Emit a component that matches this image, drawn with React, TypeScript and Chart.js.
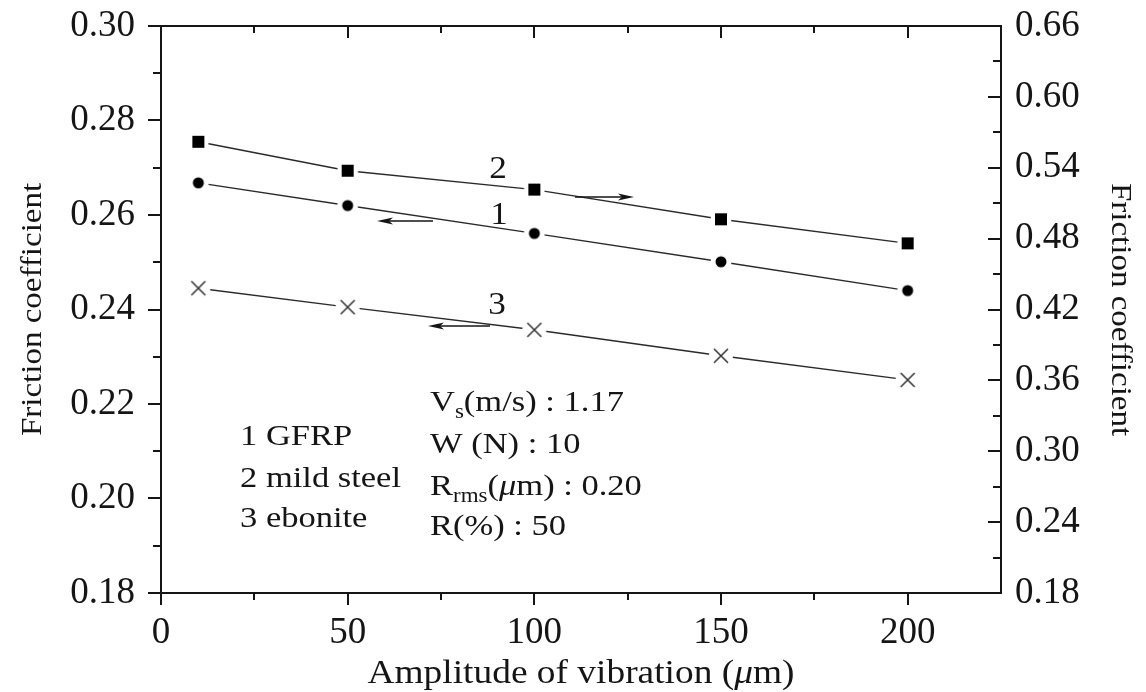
import React, { useEffect, useRef } from 'react';
import { Chart, registerables } from 'chart.js';

Chart.register(...registerables);

// ---- data ----
const amplitude = [10, 50, 100, 150, 200];
const gfrp = [0.2668, 0.262, 0.2561, 0.2501, 0.244];
const mildSteel = [0.562, 0.5375, 0.5215, 0.4964, 0.476];
const ebonite = [0.2445, 0.2405, 0.2357, 0.2302, 0.2251];

const xTicks = [0, 50, 100, 150, 200];
const xMinorTicks = [25, 75, 125, 175];
const leftTicks = [0.18, 0.2, 0.22, 0.24, 0.26, 0.28, 0.3];
const leftMinorTicks = [0.19, 0.21, 0.23, 0.25, 0.27, 0.29];
const rightTicks = [0.18, 0.24, 0.3, 0.36, 0.42, 0.48, 0.54, 0.6, 0.66];
const rightMinorTicks = [0.21, 0.27, 0.33, 0.39, 0.45, 0.51, 0.57, 0.63];

const FONT = '"Liberation Serif", "Times New Roman", serif';
const INK = '#151515';

type Part = { t: string; size?: number; italic?: boolean; dy?: number };

function richWidth(ctx: CanvasRenderingContext2D, parts: Part[], base: number) {
  let w = 0;
  for (const p of parts) {
    ctx.font = `${p.italic ? 'italic ' : ''}${p.size ?? base}px ${FONT}`;
    w += ctx.measureText(p.t).width;
  }
  return w;
}

function drawRich(
  ctx: CanvasRenderingContext2D,
  x: number,
  y: number,
  parts: Part[],
  base: number,
  stretch: number,
  align: 'left' | 'center' = 'left',
  rotate = 0
) {
  ctx.save();
  ctx.translate(x, y);
  if (rotate) ctx.rotate(rotate);
  ctx.scale(stretch, 1);
  ctx.fillStyle = INK;
  ctx.textBaseline = 'alphabetic';
  ctx.textAlign = 'left';
  let cx = align === 'center' ? -richWidth(ctx, parts, base) / 2 : 0;
  for (const p of parts) {
    ctx.font = `${p.italic ? 'italic ' : ''}${p.size ?? base}px ${FONT}`;
    ctx.fillText(p.t, cx, p.dy ?? 0);
    cx += ctx.measureText(p.t).width;
  }
  ctx.restore();
}

function arrow(ctx: CanvasRenderingContext2D, x1: number, x2: number, y: number) {
  const dir = x2 > x1 ? 1 : -1;
  ctx.save();
  ctx.strokeStyle = INK;
  ctx.fillStyle = INK;
  ctx.lineWidth = 1.6;
  ctx.beginPath();
  ctx.moveTo(x1, y);
  ctx.lineTo(x2 - dir * 10, y);
  ctx.stroke();
  ctx.beginPath();
  ctx.moveTo(x2, y);
  ctx.lineTo(x2 - dir * 16, y - 3.5);
  ctx.lineTo(x2 - dir * 12, y);
  ctx.lineTo(x2 - dir * 16, y + 3.5);
  ctx.closePath();
  ctx.fill();
  ctx.restore();
}

function makeMarker(kind: 'square' | 'circle' | 'cross') {
  const c = document.createElement('canvas');
  c.width = 26;
  c.height = 26;
  const g = c.getContext('2d')!;
  g.fillStyle = '#fff';
  g.beginPath();
  g.arc(13, 13, kind === 'cross' ? 12 : 10.5, 0, Math.PI * 2);
  g.fill();
  g.fillStyle = '#000';
  g.strokeStyle = '#333';
  if (kind === 'square') {
    g.fillRect(7, 7, 12, 12);
  } else if (kind === 'circle') {
    g.beginPath();
    g.arc(13, 13, 5.5, 0, Math.PI * 2);
    g.fill();
  } else {
    g.lineWidth = 1.5;
    g.beginPath();
    g.moveTo(6, 6);
    g.lineTo(20, 20);
    g.moveTo(20, 6);
    g.lineTo(6, 20);
    g.stroke();
  }
  return c;
}

const decorPlugin = {
  id: 'decor',
  afterDraw(chart: any) {
    const ctx: CanvasRenderingContext2D = chart.ctx;
    const { left, right, top, bottom } = chart.chartArea;
    const sx = chart.scales.x;
    const sy = chart.scales.y;
    const sy2 = chart.scales.y2;

    ctx.save();
    ctx.strokeStyle = INK;
    ctx.lineWidth = 2;
    ctx.beginPath();
    ctx.rect(left, top, right - left, bottom - top);
    ctx.stroke();

    ctx.beginPath();
    for (const v of xTicks) {
      const px = Math.round(sx.getPixelForValue(v));
      ctx.moveTo(px, bottom);
      ctx.lineTo(px, bottom + 12);
      ctx.moveTo(px, top);
      ctx.lineTo(px, top + 12);
    }
    for (const v of xMinorTicks) {
      const px = Math.round(sx.getPixelForValue(v));
      ctx.moveTo(px, bottom);
      ctx.lineTo(px, bottom + 7);
      ctx.moveTo(px, top);
      ctx.lineTo(px, top + 7);
    }
    for (const v of leftTicks) {
      const py = Math.round(sy.getPixelForValue(v));
      ctx.moveTo(left, py);
      ctx.lineTo(left - 13, py);
    }
    for (const v of leftMinorTicks) {
      const py = Math.round(sy.getPixelForValue(v));
      ctx.moveTo(left, py);
      ctx.lineTo(left - 8, py);
    }
    for (const v of rightTicks) {
      const py = Math.round(sy2.getPixelForValue(v));
      ctx.moveTo(right, py);
      ctx.lineTo(right - 13, py);
    }
    for (const v of rightMinorTicks) {
      const py = Math.round(sy2.getPixelForValue(v));
      ctx.moveTo(right, py);
      ctx.lineTo(right - 8, py);
    }
    ctx.stroke();
    ctx.restore();

    drawRich(
      ctx,
      (left + right) / 2,
      683,
      [{ t: 'Amplitude of vibration (' }, { t: 'μ', italic: true }, { t: 'm)' }],
      34,
      1.1,
      'center'
    );
    drawRich(ctx, 41, (top + bottom) / 2, [{ t: 'Friction coefficient' }], 30, 1.1, 'center', -Math.PI / 2);
    drawRich(ctx, 1112, (top + bottom) / 2, [{ t: 'Friction coefficient' }], 30, 1.1, 'center', Math.PI / 2);

    drawRich(ctx, 498, 178, [{ t: '2' }], 32, 1.1, 'center');
    drawRich(ctx, 499, 224, [{ t: '1' }], 32, 1.1, 'center');
    drawRich(ctx, 497, 314, [{ t: '3' }], 32, 1.1, 'center');

    arrow(ctx, 433, 377, 221);
    arrow(ctx, 575, 634, 197);
    arrow(ctx, 490, 428, 326);

    drawRich(ctx, 240, 445, [{ t: '1 GFRP' }], 30, 1.15);
    drawRich(ctx, 240, 487, [{ t: '2 mild steel' }], 30, 1.15);
    drawRich(ctx, 240, 527, [{ t: '3 ebonite' }], 30, 1.15);

    drawRich(ctx, 430, 411, [{ t: 'V' }, { t: 's', size: 20, dy: 7 }, { t: '(m/s) : 1.17' }], 30, 1.15);
    drawRich(ctx, 430, 453, [{ t: 'W (N) : 10' }], 30, 1.15);
    drawRich(
      ctx,
      430,
      495,
      [{ t: 'R' }, { t: 'rms', size: 20, dy: 7 }, { t: '(' }, { t: 'μ', italic: true }, { t: 'm) : 0.20' }],
      30,
      1.15
    );
    drawRich(ctx, 430, 535, [{ t: 'R(%) : 50' }], 30, 1.15);
  },
};

function zeroPad(s: any) {
  s.paddingTop = 0;
  s.paddingBottom = 0;
  s.paddingLeft = 0;
  s.paddingRight = 0;
}

export default function App() {
  const ref = useRef<HTMLCanvasElement | null>(null);

  useEffect(() => {
    if (!ref.current) return;
    let chart: Chart | null = null;
    let cancelled = false;

    const build = () => {
      if (cancelled || !ref.current) return;
      const sq = makeMarker('square');
      const ci = makeMarker('circle');
      const cr = makeMarker('cross');
      const tickFont = { family: FONT, size: 37 };
      const lineStyle = { borderColor: '#2a2a2a', borderWidth: 1.4, showLine: true, fill: false, tension: 0 };

      chart = new Chart(ref.current, {
        type: 'scatter',
        data: {
          datasets: [
            {
              label: '1 GFRP',
              data: amplitude.map((x, i) => ({ x, y: gfrp[i] })),
              yAxisID: 'y',
              pointStyle: ci as any,
              ...lineStyle,
            },
            {
              label: '2 mild steel',
              data: amplitude.map((x, i) => ({ x, y: mildSteel[i] })),
              yAxisID: 'y2',
              pointStyle: sq as any,
              ...lineStyle,
            },
            {
              label: '3 ebonite',
              data: amplitude.map((x, i) => ({ x, y: ebonite[i] })),
              yAxisID: 'y',
              pointStyle: cr as any,
              ...lineStyle,
            },
          ],
        },
        options: {
          responsive: false,
          animation: false,
          devicePixelRatio: 1,
          layout: { padding: { top: 26, left: 0, right: 0, bottom: 0 } },
          plugins: { legend: { display: false }, tooltip: { enabled: false } },
          scales: {
            x: {
              type: 'linear',
              position: 'bottom',
              min: 0,
              max: 225,
              afterBuildTicks: (s: any) => {
                s.ticks = xTicks.map((v) => ({ value: v }));
              },
              afterFit: (s: any) => {
                s.height = 99;
                zeroPad(s);
              },
              ticks: { font: tickFont, color: INK, padding: 18, maxRotation: 0, autoSkip: false, callback: (v: any) => String(v) },
              grid: { display: false, drawTicks: false, tickLength: 0 },
              border: { display: false },
            },
            y: {
              type: 'linear',
              position: 'left',
              min: 0.18,
              max: 0.3,
              afterBuildTicks: (s: any) => {
                s.ticks = leftTicks.map((v) => ({ value: v }));
              },
              afterFit: (s: any) => {
                s.width = 161;
                zeroPad(s);
              },
              ticks: { font: tickFont, color: INK, padding: 26, autoSkip: false, callback: (v: any) => Number(v).toFixed(2) },
              grid: { display: false, drawTicks: false, tickLength: 0 },
              border: { display: false },
            },
            y2: {
              type: 'linear',
              position: 'right',
              min: 0.18,
              max: 0.66,
              afterBuildTicks: (s: any) => {
                s.ticks = rightTicks.map((v) => ({ value: v }));
              },
              afterFit: (s: any) => {
                s.width = 145;
                zeroPad(s);
              },
              ticks: { font: tickFont, color: INK, padding: 14, autoSkip: false, callback: (v: any) => Number(v).toFixed(2) },
              grid: { display: false, drawTicks: false, tickLength: 0 },
              border: { display: false },
            },
          },
        } as any,
        plugins: [decorPlugin],
      });
    };

    const fontsApi: any = (document as any).fonts;
    if (fontsApi && fontsApi.load) {
      Promise.all([fontsApi.load(`37px ${FONT}`), fontsApi.load(`italic 30px ${FONT}`)])
        .catch(() => undefined)
        .then(build);
    } else {
      build();
    }

    return () => {
      cancelled = true;
      if (chart) chart.destroy();
    };
  }, []);

  return (
    <div style={{ position: 'fixed', left: 0, top: 0, width: 1146, height: 692, background: '#fff' }}>
      <canvas ref={ref} width={1146} height={692} style={{ display: 'block', width: 1146, height: 692 }} />
    </div>
  );
}
